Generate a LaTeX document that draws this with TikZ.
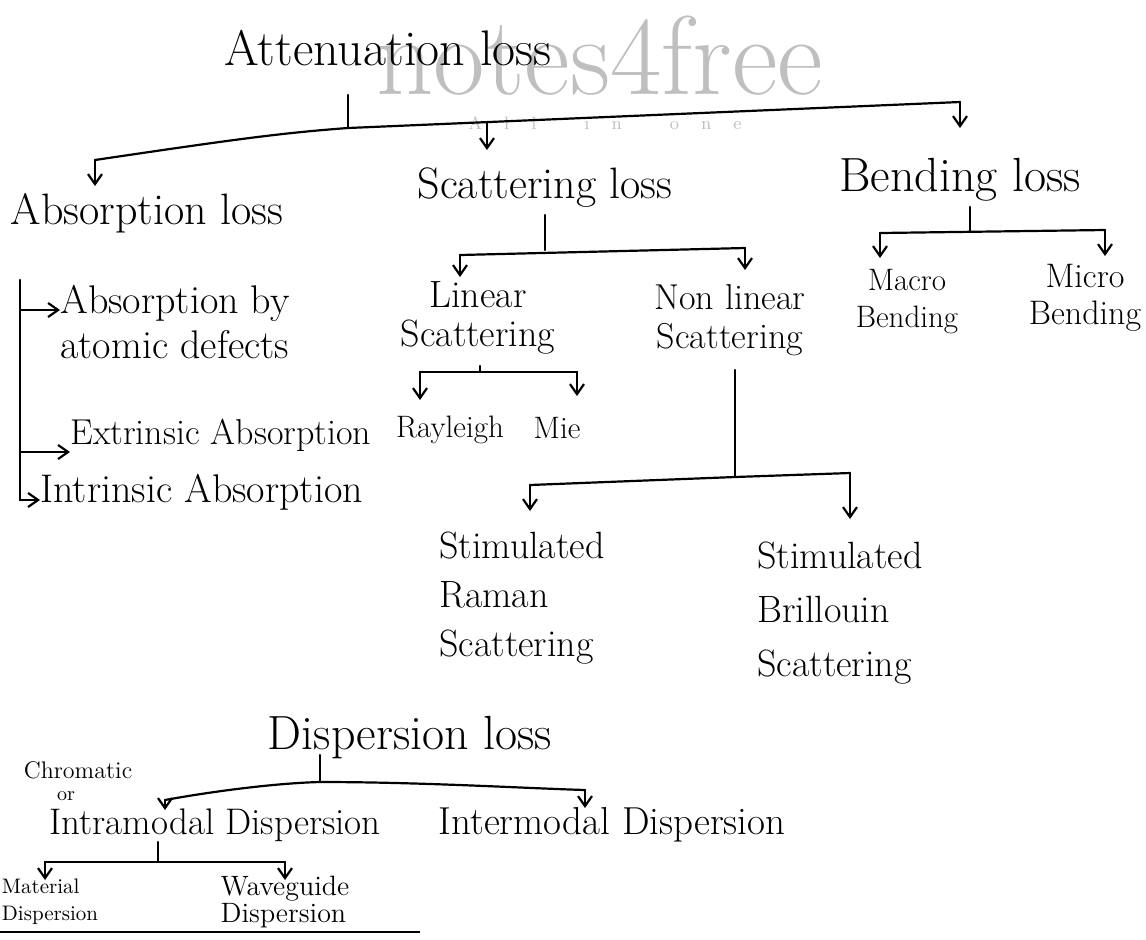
\documentclass[tikz,border=0pt]{standalone}
\usetikzlibrary{arrows.meta}
\newcommand{\fs}[2]{\fontsize{#1}{#2}\selectfont}
\begin{document}
\begin{tikzpicture}[x=0.5pt,y=-0.5pt,
  every node/.style={inner sep=0pt},
  lbl/.style={align=center},
  lft/.style={align=left},
  wm/.style={text=gray!50},
  ln/.style={line width=1.1pt, line cap=round, line join=round},
  arr/.style={ln, -{Straight Barb[length=5pt,width=7pt]}}]
\useasboundingbox (0,0) rectangle (1146,939);
% watermark
\node[wm, font=\fs{56}{56}] (wmark) at (600,56) {notes4free};
\node[wm, font=\fs{9}{9}] (wmsub) at (605,123)
  {A\hspace{11pt}l\hspace{11pt}l\hspace{24pt}i\hspace{11pt}n\hspace{24pt}o\hspace{11pt}n\hspace{11pt}e};
% nodes
\node[lbl, font=\fs{25}{28}] (att) at (388,48) {Attenuation loss};
\node[lbl, font=\fs{22}{25}] (abs) at (147,213) {Absorption loss};
\node[lbl, font=\fs{22}{25}] (sca) at (545,188) {Scattering loss};
\node[lbl, font=\fs{24}{27}] (ben) at (960,180) {Bending loss};
\node[lft, font=\fs{20}{22.5}, anchor=west] (ad) at (60,322) {Absorption by\\atomic defects};
\node[lbl, font=\fs{18}{20}, anchor=west] (ext) at (70,435) {Extrinsic Absorption};
\node[lbl, font=\fs{20}{22}, anchor=west] (intr) at (40,492) {Intrinsic Absorption};
\node[lbl, font=\fs{19}{19.5}] (lin) at (478,318) {Linear\\Scattering};
\node[lbl, font=\fs{18}{19.5}] (nl) at (730,320) {Non linear\\Scattering};
\node[lbl, font=\fs{15.5}{18.5}] (mac) at (907,302) {Macro\\Bending};
\node[lbl, font=\fs{17}{18.5}] (mic) at (1085,298) {Micro\\Bending};
\node[lbl, font=\fs{15.5}{18}] (ray) at (450,430) {Rayleigh};
\node[lbl, font=\fs{15.5}{18}] (mie) at (557,428) {Mie};
\node[lft, font=\fs{19}{24.5}] (srs) at (522,598) {Stimulated\\Raman\\Scattering};
\node[lft, font=\fs{19}{27}] (sbs) at (840,613) {Stimulated\\Brillouin\\Scattering};
\node[lbl, font=\fs{24}{27}] (dis) at (410,738) {Dispersion loss};
\node[lbl, font=\fs{12}{13}] (chr) at (78,770) {Chromatic};
\node[lbl, font=\fs{10}{11}] (or) at (66,796) {or};
\node[lbl, font=\fs{18.5}{21}] (intra) at (215,825) {Intramodal Dispersion};
\node[lbl, font=\fs{19.5}{22}] (inter) at (612,825) {Intermodal Dispersion};
\node[lft, font=\fs{10.5}{13.5}] (mat) at (50,902) {Material\\Dispersion};
\node[lft, font=\fs{14}{13.5}] (wav) at (285,902) {Waveguide\\Dispersion};
% coordinates
\coordinate (a0) at (348,95);
\coordinate (a1) at (348,128);
\coordinate (aL) at (95,160);
\coordinate (aM) at (487,123);
\coordinate (aR) at (960,102);
\coordinate (s0) at (545,215);
\coordinate (s1) at (545,250);
\coordinate (sL) at (460,255);
\coordinate (sR) at (745,248);
\coordinate (b0) at (970,207);
\coordinate (b1) at (970,232);
\coordinate (bL) at (880,233);
\coordinate (bR) at (1105,230);
\coordinate (v0) at (20,280);
\coordinate (v1) at (20,500);
\coordinate (l1) at (480,372);
\coordinate (lL) at (420,372);
\coordinate (lR) at (577,372);
\coordinate (n0) at (735,370);
\coordinate (n1) at (735,477);
\coordinate (nL) at (530,485);
\coordinate (nR) at (850,473);
\coordinate (d0) at (320,755);
\coordinate (d1) at (320,782);
\coordinate (dL) at (165,800);
\coordinate (dR) at (585,790);
\coordinate (i0) at (158,842);
\coordinate (i1) at (158,862);
\coordinate (iL) at (45,862);
\coordinate (iR) at (285,862);
\coordinate (u0) at (0,932);
\coordinate (u1) at (420,932);
% attenuation tree
\draw[ln] (a0) -- (a1);
\draw[ln] (aL) .. controls (230,140) and (280,133) .. (a1) -- (aR);
\draw[arr] (aL) -- ++(0,26);
\draw[arr] (aM) -- ++(0,27);
\draw[arr] (aR) -- ++(0,26);
% scattering tree
\draw[ln] (s0) -- (s1);
\draw[ln] (sL) -- (sR);
\draw[arr] (sL) -- ++(0,22);
\draw[arr] (sR) -- ++(0,22);
% bending tree
\draw[ln] (b0) -- (b1);
\draw[ln] (bL) -- (bR);
\draw[arr] (bL) -- ++(0,25);
\draw[arr] (bR) -- ++(0,26);
% absorption list
\draw[ln] (v0) -- (v1);
\draw[arr] (20,310) -- (ad.west |- 20,310);
\draw[arr] (20,452) -- (ext.west |- 20,452);
\draw[arr] (v1) -- (intr.west |- v1);
% linear
\draw[ln] (l1) -- ++(0,-6);
\draw[ln] (lL) -- (lR);
\draw[arr] (lL) -- ++(0,28);
\draw[arr] (lR) -- ++(0,24);
% non linear
\draw[ln] (n0) -- (n1);
\draw[ln] (nL) -- (n1) -- (nR);
\draw[arr] (nL) -- ++(0,26);
\draw[arr] (nR) -- ++(0,46);
% dispersion
\draw[ln] (d0) -- (d1);
\draw[ln] (dL) .. controls (220,790) and (280,783) .. (d1) .. controls (420,782) and (520,788) .. (dR);
\draw[arr] (dL) -- ++(0,10);
\draw[arr] (dR) -- ++(0,18);
\draw[ln] (i0) -- (i1);
\draw[ln] (iL) -- (iR);
\draw[arr] (iL) -- ++(0,18);
\draw[arr] (iR) -- ++(0,18);
\draw[line width=1.4pt] (u0) -- (u1);
\end{tikzpicture}
\end{document}
